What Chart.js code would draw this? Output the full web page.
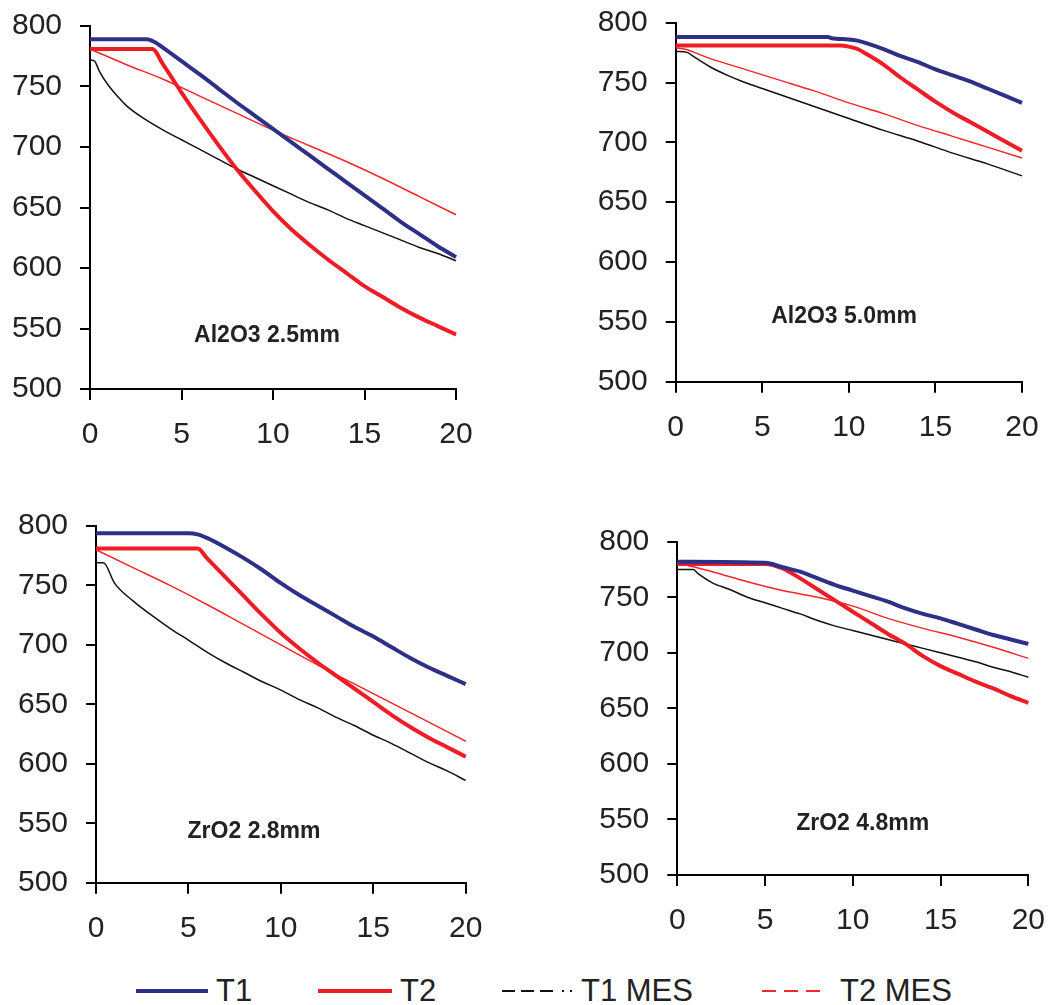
<!DOCTYPE html>
<html>
<head>
<meta charset="utf-8">
<script src="https://cdn.jsdelivr.net/npm/chart.js@4/dist/chart.umd.min.js"></script>
<style>
  body { margin: 0; background: #fff; width: 1062px; height: 1005px; position: relative; overflow: hidden;
         font-family: "Liberation Sans", Arial, sans-serif; }
  canvas { position: absolute; }
  .leg { position: absolute; top: 975px; font-size: 31px; line-height: 31px; color: #222; white-space: nowrap; }
  .legline { position: absolute; top: 981px; }
</style>
</head>
<body>
<canvas id="c1" width="531" height="490" style="left:0;top:-20px"></canvas>
<canvas id="c2" width="531" height="490" style="left:531px;top:-20px"></canvas>
<canvas id="c3" width="531" height="470" style="left:0;top:490px"></canvas>
<canvas id="c4" width="531" height="470" style="left:531px;top:490px"></canvas>

<svg class="legline" style="left:130px" width="90" height="20"><line x1="6" y1="10" x2="78" y2="10" stroke="#2e3087" stroke-width="4"/></svg>
<div class="leg" style="left:216px">T1</div>
<svg class="legline" style="left:312px" width="90" height="20"><line x1="6" y1="10" x2="80" y2="10" stroke="#ee1d25" stroke-width="4"/></svg>
<div class="leg" style="left:400px">T2</div>
<svg class="legline" style="left:496px" width="90" height="20"><line x1="6" y1="10" x2="58" y2="10" stroke="#111" stroke-width="2" stroke-dasharray="13 6"/><line x1="66" y1="10" x2="80" y2="10" stroke="#111" stroke-width="2" stroke-dasharray="2 6"/></svg>
<div class="leg" style="left:581px">T1 MES</div>
<svg class="legline" style="left:756px" width="90" height="20"><line x1="6" y1="10" x2="64" y2="10" stroke="#f3262c" stroke-width="2" stroke-dasharray="14 8"/></svg>
<div class="leg" style="left:840px">T2 MES</div>

<script>
// x = time, y = temperature ; each series is a list of [x, y] pairs
const xMin = 0, xMax = 20, xStep = 5;
const yMin = 500, yMax = 800, yStep = 50;
const seriesNames = ["T1", "T2", "T1 MES", "T2 MES"];
const panelTitles = ["Al2O3 2.5mm", "Al2O3 5.0mm", "ZrO2 2.8mm", "ZrO2 4.8mm"];
const titlePos = [[9.67, 544], [9.72, 554], [8.55, 543], [10.56, 546]];

// Al2O3 2.5mm
const al25T1 = [[0,789],[3.1,789],[3.5,787],[4,782],[5,771],[6,760],[7,748.5],[8,737],[9,726],[10,715],[11,704],[12,693],[13,682],[14,671],[15,660],[16,649],[17,638],[18,628],[19,618],[20,609]];
const al25T2 = [[0,781],[3.4,781],[4,768],[5,745],[6,723],[7,702],[8,682],[9,664],[10,647],[11,632],[12,619],[13,607],[14,596],[15,585],[16,576],[17,567],[18,559],[19,552],[20,545]];
const al25T1m = [[0,772],[0.25,771],[0.5,763],[1,751],[1.5,742],[2,734],[3,723],[4,714],[5,706],[6,698],[7,690],[8,682],[9,675],[10,668],[11,661],[12,654],[13,648],[14,641],[15,635],[16,629],[17,623],[18,617],[19,612],[20,606]];
const al25T2m = [[0,781],[2,768],[4,756],[6,742],[8,728],[10,714],[12,701],[14,688],[16,674],[18,659],[20,644]];

// Al2O3 5.0mm
const al50T1 = [[0,788],[8.8,788],[9,787],[10,786],[10.5,785],[11,783],[12,778],[13,772],[14,767],[15,761],[16,756],[17,751],[18,745],[19,739],[20,733]];
const al50T2 = [[0,781],[9.5,781],[10,780],[10.5,778],[11,774],[12,765],[13,754],[14,744],[15,734],[16,725],[17,717],[18,709],[19,701],[20,693]];
const al50T1m = [[0,776],[0.7,775],[1,772],[2,763],[3,756],[4,750],[5,745],[6,740],[7,735],[8,730],[10,720],[12,710],[14,701],[16,691],[18,682],[20,672]];
const al50T2m = [[0,779],[0.5,778],[2,770],[4,761],[6,752],[8,743],[10,733],[12,724],[14,714],[16,705],[18,696],[20,687]];

// ZrO2 2.8mm
const zr28T1 = [[0,794],[5,794],[5.5,793],[6,790],[7,782],[8,773],[9,763],[10,752],[11,742],[12,733],[13,724],[14,715],[15,707],[16,698],[17,689],[18,681],[19,674],[20,667]];
const zr28T2 = [[0,781],[5.5,781],[6,773],[7,757],[8,741],[9,725],[10,710],[11,697],[12,685],[13,674],[14,663],[15,652],[16,641],[17,631],[18,622],[19,614],[20,606]];
const zr28T1m = [[0,769],[0.4,769],[1,752],[2,737],[3,725],[4,714],[5,704],[6,694],[7,685],[8,677],[9,669],[10,662],[11,654],[12,647],[13,639],[14,632],[15,624],[16,617],[17,609],[18,601],[19,594],[20,586]];
const zr28T2m = [[0,780],[2,765],[4,750],[6,734],[8,717],[10,700],[12,683],[14,667],[16,651],[18,635],[20,619]];

// ZrO2 4.8mm
const zr48T1 = [[0,782],[5,781],[6,777],[7,773],[8,767],[9,761],[10,756],[11,751],[12,746],[13,740],[14,735],[15,731],[16,726],[17,721],[18,716],[19,712],[20,708]];
const zr48T2 = [[0,780],[5,780],[6,776],[7,767],[8,757],[9,747],[10,737],[11,727],[12,717],[13,708],[14,697],[15,688],[16,681],[17,674],[18,668],[19,661],[20,655]];
const zr48T1m = [[0,775],[0.9,775],[1.2,771],[2,763],[3,757],[4,750],[5,745],[6,740],[7,735],[8,729],[9,724],[10,720],[11,716],[12,712],[13,708],[14,704],[15,700],[16,696],[17,692],[18,687],[19,683],[20,678]];
const zr48T2m = [[0,781],[2,773],[4,764],[6,756],[8,750],[10,742],[12,731],[14,722],[16,714],[18,705],[20,695]];

const panelData = [
    [al25T1, al25T2, al25T1m, al25T2m],
    [al50T1, al50T2, al50T1m, al50T2m],
    [zr28T1, zr28T2, zr28T1m, zr28T2m],
    [zr48T1, zr48T2, zr48T1m, zr48T2m],
];

const seriesStyle = [
    { color: "#2e3087", width: 4 },
    { color: "#ee1d25", width: 4 },
    { color: "#111111", width: 1.5 },
    { color: "#f3262c", width: 1.5 },
];

// canvas / axis geometry per panel
const panelLayout = [
    { id: "c1", yw: 90, xh: 81, top: 46, right: 75 },
    { id: "c2", yw: 144.7, xh: 88.3, top: 42.7, right: 40 },
    { id: "c3", yw: 96, xh: 77.3, top: 36, right: 65.3 },
    { id: "c4", yw: 146.3, xh: 85, top: 51.7, right: 19.7 },
];

const tickFont = { family: "'Liberation Sans', Arial, sans-serif", size: 30 };

const titlePlugin = {
    id: "panelTitle",
    afterDatasetsDraw(chart, args, opts) {
        const { ctx, scales } = chart;
        ctx.save();
        ctx.font = "bold 23px 'Liberation Sans', Arial, sans-serif";
        ctx.fillStyle = "#222";
        ctx.textAlign = "center";
        ctx.textBaseline = "middle";
        ctx.fillText(opts.text, scales.x.getPixelForValue(opts.at[0]), scales.y.getPixelForValue(opts.at[1]));
        ctx.restore();
    },
};

panelLayout.forEach((p, i) => {
    const ctx = document.getElementById(p.id).getContext("2d");
    new Chart(ctx, {
        type: "line",
        data: {
            datasets: panelData[i].map((d, k) => ({
                label: seriesNames[k],
                data: d,
                borderColor: seriesStyle[k].color,
                borderWidth: seriesStyle[k].width,
                pointRadius: 0,
                fill: false,
                cubicInterpolationMode: "monotone",
                clip: 6,
            })),
        },
        options: {
            responsive: false,
            animation: false,
            layout: { padding: { top: p.top, right: p.right, left: 0, bottom: 0 } },
            plugins: {
                legend: { display: false },
                tooltip: { enabled: false },
                panelTitle: { text: panelTitles[i], at: titlePos[i] },
            },
            scales: {
                x: {
                    type: "linear",
                    min: xMin, max: xMax,
                    ticks: { stepSize: xStep, font: tickFont, color: "#222", padding: 17, maxRotation: 0 },
                    grid: { drawOnChartArea: false, tickLength: 11, color: "#000", lineWidth: 2 },
                    border: { color: "#000", width: 2 },
                    afterFit: (s) => { s.height = p.xh; },
                },
                y: {
                    min: yMin, max: yMax,
                    ticks: { stepSize: yStep, font: tickFont, color: "#222", padding: 18 },
                    grid: { drawOnChartArea: false, tickLength: 10, color: "#000", lineWidth: 2 },
                    border: { color: "#000", width: 2 },
                    afterFit: (s) => { s.width = p.yw; },
                },
            },
        },
        plugins: [titlePlugin],
    });
});
</script>
</body>
</html>
